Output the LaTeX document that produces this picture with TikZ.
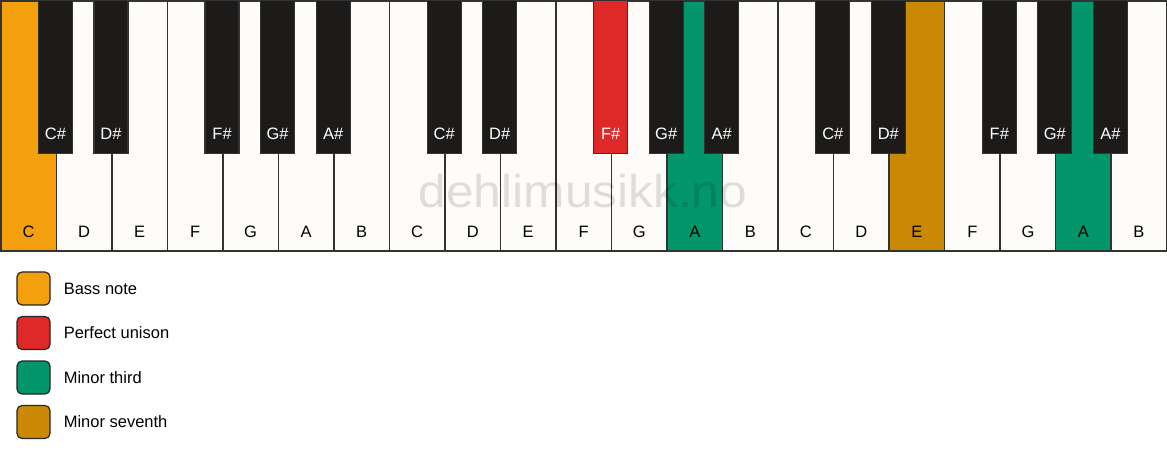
\documentclass[tikz,border=0pt]{standalone}
\usepackage{fontspec}
\setmainfont{Liberation Sans}
\usetikzlibrary{positioning}
\definecolor{bassnote}{HTML}{F39F0E}
\definecolor{unison}{HTML}{DF2828}
\definecolor{minthird}{HTML}{03966A}
\definecolor{minseventh}{HTML}{CA8905}
\definecolor{ivory}{HTML}{FDFCF9}
\definecolor{ebony}{HTML}{1C1B1A}
\definecolor{keyline}{HTML}{333333}
\tikzset{
    whitekey/.style={draw=keyline, line width=1.6pt, minimum width=55.52pt, minimum height=250pt, anchor=north west, inner sep=0pt},
    blackkey/.style={draw=keyline, line width=1.2pt, minimum width=34pt, minimum height=153pt, anchor=north, inner sep=0pt},
    keyname/.style={font=\fontsize{16.5}{19}\selectfont, inner sep=0pt},
    swatch/.style={draw=black!85, line width=1.2pt, rounded corners=5pt, minimum size=33pt, inner sep=0pt},
    legendtext/.style={font=\fontsize{16.5}{19}\selectfont, anchor=west, inner sep=0pt}
}
\begin{document}
\begin{tikzpicture}[x=1pt,y=1pt]
    \useasboundingbox[fill=white] (0,0) rectangle (1167,461);
    % white keys
    \foreach \n/\c [count=\i from 0] in {C/bassnote,D/ivory,E/ivory,F/ivory,G/ivory,A/ivory,B/ivory,C/ivory,D/ivory,E/ivory,F/ivory,G/ivory,A/minthird,B/ivory,C/ivory,D/ivory,E/minseventh,F/ivory,G/ivory,A/minthird,B/ivory} {
        \node[whitekey, fill=\c] (w\i) at (\i*55.52,461) {};
        \node[keyname] (lw\i) at ([yshift=20]w\i.south) {\n};
    }
    % black keys
    \foreach \n/\j/\c in {C\#/1/ebony,D\#/2/ebony,F\#/4/ebony,G\#/5/ebony,A\#/6/ebony,C\#/8/ebony,D\#/9/ebony,F\#/11/unison,G\#/12/ebony,A\#/13/ebony,C\#/15/ebony,D\#/16/ebony,F\#/18/ebony,G\#/19/ebony,A\#/20/ebony} {
        \node[blackkey, fill=\c] (b\j) at (\j*55.52,461) {};
        \node[keyname, text=white] (lb\j) at ([yshift=20]b\j.south) {\n};
    }
    \node[text=black, text opacity=0.12, font=\fontsize{46}{50}\selectfont, anchor=base, inner sep=0pt] (mark) at (583,253) {\scalebox{1.08}[1]{dehlimusikk.no}};
    % legend
    \foreach \c/\t [count=\k] in {bassnote/Bass note,unison/Perfect unison,minthird/Minor third,minseventh/Minor seventh} {
        \node[swatch, fill=\c] (s\k) at (33.5,217-\k*44.5) {};
        \node[legendtext, right=13pt of s\k] (t\k) {\t};
    }
\end{tikzpicture}
\end{document}
